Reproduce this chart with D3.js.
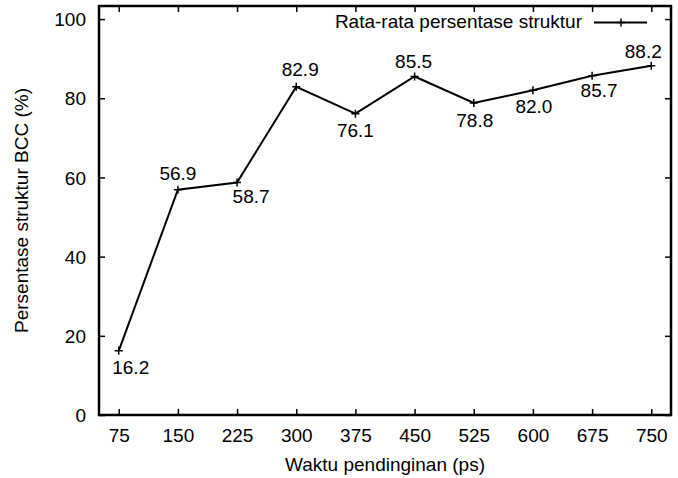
<!DOCTYPE html>
<html>
<head>
<meta charset="utf-8">
<script src="https://cdn.jsdelivr.net/npm/d3@7"></script>
<style>
  html, body { margin: 0; padding: 0; background: #fff; }
  text { font-family: "Liberation Sans", Arial, Helvetica, sans-serif; fill: #000; }
</style>
</head>
<body>
<svg id="chart" width="678" height="478"></svg>
<script>
// ---- data ----
const waktu = [75, 150, 225, 300, 375, 450, 525, 600, 675, 750];
const persentase = [16.2, 56.9, 58.7, 82.9, 76.1, 85.5, 78.8, 82.0, 85.7, 88.2];
const valueLabels = ["16.2", "56.9", "58.7", "82.9", "76.1", "85.5", "78.8", "82.0", "85.7", "88.2"];
const xTicks = [75, 150, 225, 300, 375, 450, 525, 600, 675, 750];
const yTicks = [0, 20, 40, 60, 80, 100];
const seriesName = "Rata-rata persentase struktur";
const xTitle = "Waktu pendinginan (ps)";
const yTitle = "Persentase struktur BCC (%)";

// ---- layout (label offsets from point, px) ----
const labelOffsets = [[12,16],[0,-16],[14,14],[4,-17],[0,17],[-1,-15],[1,17],[1,16],[7,15],[-8,-14]];

const L = 99, R = 671, T = 6, B = 415;
const fs = 19;
const svg = d3.select("#chart");
const x = d3.scaleLinear().domain([50, 775]).range([L, R]);
const y = d3.scaleLinear().domain([0, 103.3]).range([B, T]);
const tick = 6;

// axes (ticks inward, mirrored)
const gB = svg.append("g").attr("transform", `translate(0,${B})`)
  .call(d3.axisBottom(x).tickValues(xTicks).tickSizeInner(-tick).tickSizeOuter(0).tickPadding(14));
const gT = svg.append("g").attr("transform", `translate(0,${T})`)
  .call(d3.axisTop(x).tickValues(xTicks).tickSizeInner(-tick).tickSizeOuter(0).tickFormat(""));
const gL = svg.append("g").attr("transform", `translate(${L},0)`)
  .call(d3.axisLeft(y).tickValues(yTicks).tickSizeInner(-tick).tickSizeOuter(0).tickPadding(13));
const gR = svg.append("g").attr("transform", `translate(${R},0)`)
  .call(d3.axisRight(y).tickValues(yTicks).tickSizeInner(-tick).tickSizeOuter(0).tickFormat(""));
[gB, gT, gL, gR].forEach(g => {
  g.select(".domain").remove();
  g.selectAll(".tick line").attr("stroke", "#000").attr("stroke-width", 1.5);
  g.selectAll(".tick text").style("font-size", fs + "px").attr("fill", "#000");
});
gL.selectAll(".tick text").attr("dy", "0.35em");

// frame
svg.append("rect").attr("x", L).attr("y", T).attr("width", R - L).attr("height", B - T)
  .attr("fill", "none").attr("stroke", "#000").attr("stroke-width", 2.5);

// line
const pts = waktu.map((w, i) => [w, persentase[i]]);
svg.append("path").datum(pts)
  .attr("fill", "none").attr("stroke", "#000").attr("stroke-width", 2)
  .attr("d", d3.line().x(d => x(d[0])).y(d => y(d[1])));

// plus markers
const plus = (g, cx, cy, s) => {
  g.append("path").attr("d", `M${cx - s},${cy}H${cx + s}M${cx},${cy - s}V${cy + s}`)
    .attr("stroke", "#000").attr("stroke-width", 1.5).attr("fill", "none");
};
const mg = svg.append("g");
pts.forEach(d => plus(mg, x(d[0]), y(d[1]), 4));

// value labels
svg.append("g").selectAll("text").data(pts).join("text")
  .attr("x", (d, i) => x(d[0]) + labelOffsets[i][0])
  .attr("y", (d, i) => y(d[1]) + labelOffsets[i][1])
  .attr("dy", "0.35em").attr("text-anchor", "middle")
  .style("font-size", fs + "px")
  .text((d, i) => valueLabels[i]);

// legend
svg.append("text").attr("x", 582).attr("y", 28).attr("text-anchor", "end")
  .style("font-size", fs + "px").text(seriesName);
svg.append("line").attr("x1", 594).attr("x2", 647).attr("y1", 22.5).attr("y2", 22.5)
  .attr("stroke", "#000").attr("stroke-width", 2);
plus(svg, 621, 22.5, 4);

// axis titles
svg.append("text").attr("x", (L + R) / 2).attr("y", 471).attr("text-anchor", "middle")
  .style("font-size", fs + "px").text(xTitle);
svg.append("text").attr("transform", `translate(28,${(T + B) / 2}) rotate(-90)`)
  .attr("text-anchor", "middle").style("font-size", fs + "px").text(yTitle);
</script>
</body>
</html>
